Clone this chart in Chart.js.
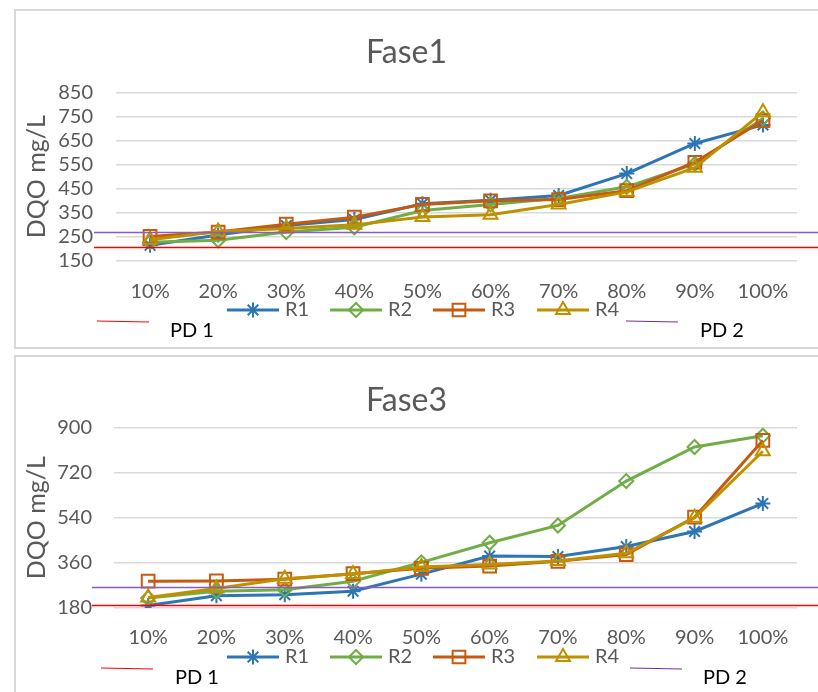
<!DOCTYPE html>
<html>
<head>
<meta charset="utf-8">
<script src="https://cdn.jsdelivr.net/npm/chart.js@4.4.0/dist/chart.umd.min.js"></script>
<style>
  html, body { margin:0; padding:0; background:#fff; overflow:hidden; }
  .box { position:absolute; left:14px; width:808px; border:2px solid #D9D9D9; box-sizing:border-box; background:#fff; }
  #box1 { top:9px; height:340px; }
  #box2 { top:355px; height:345px; }
  canvas { display:block; }
</style>
</head>
<body>
<div class="box" id="box1"><canvas id="fase1" width="804" height="336"></canvas></div>
<div class="box" id="box2"><canvas id="fase3" width="804" height="341"></canvas></div>
<script>
// data
const categories = ['10%', '20%', '30%', '40%', '50%', '60%', '70%', '80%', '90%', '100%'];
const seriesLabels = ['R1', 'R2', 'R3', 'R4'];
const pdLabels = ['PD 1', 'PD 2'];

const fase1R1 = [215, 258, 297, 322, 388, 402, 422, 513, 638, 715];
const fase1R2 = [228, 236, 270, 290, 360, 385, 410, 458, 553, 742];
const fase1R3 = [252, 270, 303, 332, 385, 400, 405, 442, 560, 733];
const fase1R4 = [238, 272, 285, 300, 333, 342, 385, 437, 537, 768];
const fase1Ticks = [150, 250, 350, 450, 550, 650, 750, 850];
const fase1PD = [208, 271];

const fase3R1 = [190, 229, 233, 247, 315, 387, 385, 425, 485, 597];
const fase3R2 = [220, 247, 253, 287, 362, 440, 509, 686, 822, 867];
const fase3R3 = [287, 288, 295, 317, 338, 347, 366, 393, 542, 848];
const fase3R4 = [222, 258, 297, 316, 343, 353, 367, 398, 540, 805];
const fase3Ticks = [180, 360, 540, 720, 900];
const fase3PD = [193, 262];

Chart.defaults.font.family = 'Lato, "Open Sans", sans-serif';
Chart.defaults.color = '#595959';

const seriesColors = ['#2E75B6', '#70AD47', '#C55A11', '#BF9000'];
const seriesMarkers = ['star', 'rectRot', 'rect', 'triangle'];
const markerSizes = [7.5, 7, 9, 8];
const pdColors = ['#FF0000', '#8B5CC0'];

// horizontal PD lines, drawn on top like in excel, a bit wider than the plot
const pdLines = {
  id: 'pdLines',
  afterDatasetsDraw(chart, args, opts) {
    const ctx = chart.ctx;
    const y = chart.scales.y;
    ctx.save();
    opts.values.forEach((v, i) => {
      const py = Math.round(y.getPixelForValue(v)) + 0.5;
      ctx.strokeStyle = pdColors[i];
      ctx.lineWidth = 1.5;
      ctx.beginPath();
      ctx.moveTo(chart.chartArea.left - 22, py);
      ctx.lineTo(chart.width, py);
      ctx.stroke();
    });
    ctx.restore();
  }
};

// legend in excel style: line + marker + label, PD entries a bit lower
const excelLegend = {
  id: 'excelLegend',
  afterDraw(chart, args, opts) {
    const ctx = chart.ctx;
    ctx.save();
    ctx.font = '20px ' + Chart.defaults.font.family;
    ctx.textBaseline = 'middle';
    chart.data.datasets.forEach((ds, i) => {
      const x = opts.seriesX[i], y = opts.rowY;
      ctx.strokeStyle = ds.borderColor;
      ctx.lineWidth = 3;
      ctx.beginPath();
      ctx.moveTo(x, y);
      ctx.lineTo(x + 52, y);
      ctx.stroke();
      ctx.lineWidth = 2;
      ctx.fillStyle = 'rgba(0,0,0,0)';
      Chart.helpers.drawPoint(ctx, {pointStyle: ds.pointStyle, radius: ds.pointRadius, borderWidth: 2, rotation: 0}, x + 26, y);
      ctx.fillStyle = '#595959';
      ctx.fillText(ds.label, x + 58, y);
    });
    pdLabels.forEach((lab, i) => {
      const x = opts.pdX[i], y = opts.rowY + 11;
      ctx.strokeStyle = i === 1 ? '#7030A0' : pdColors[i];
      ctx.lineWidth = 1.2;
      ctx.beginPath();
      ctx.moveTo(x, y);
      ctx.lineTo(x + 52, y + 1);
      ctx.stroke();
      ctx.fillStyle = '#000000';
      ctx.fillText(lab, opts.pdTextX[i], opts.rowY + 21);
    });
    ctx.restore();
  }
};

function buildChart(id, title, values, ticks, pd, lay) {
  const ctx = document.getElementById(id).getContext('2d');
  return new Chart(ctx, {
    type: 'line',
    data: {
      labels: categories,
      datasets: values.map((v, i) => ({
        label: seriesLabels[i],
        data: v,
        borderColor: seriesColors[i],
        backgroundColor: 'rgba(0,0,0,0)',
        borderWidth: 3,
        pointStyle: seriesMarkers[i],
        pointRadius: markerSizes[i],
        pointBorderWidth: 2,
        pointBorderColor: seriesColors[i],
        pointBackgroundColor: 'rgba(0,0,0,0)',
        tension: 0,
        order: values.length - i
      }))
    },
    options: {
      responsive: false,
      animation: false,
      layout: { padding: { left: 0, right: 23, top: 0, bottom: lay.bottom } },
      scales: {
        x: {
          offset: true,
          grid: { display: false },
          border: { display: false },
          ticks: { padding: lay.xPad, font: { size: 20 }, color: '#595959', maxRotation: 0 }
        },
        y: {
          min: ticks[0],
          max: ticks[ticks.length - 1],
          ticks: { stepSize: ticks[1] - ticks[0], autoSkip: false, padding: lay.yPad, font: { size: 20 }, color: '#595959' },
          grid: { color: '#D9D9D9', lineWidth: 1.5, drawTicks: false },
          border: { display: false },
          title: { display: true, text: 'DQO mg/L', font: { size: 25 }, color: '#595959', padding: { top: 6, bottom: 0 } },
          afterFit: s => { s.width = lay.left; }
        }
      },
      plugins: {
        legend: { display: false },
        tooltip: { enabled: false },
        title: {
          display: true, text: title, color: '#595959',
          font: { size: 32, weight: 'normal' },
          padding: { top: lay.titleTop, bottom: lay.titleBottom }
        },
        pdLines: { values: pd },
        excelLegend: { seriesX: [211, 314, 417, 521], rowY: lay.rowY, pdX: lay.pdX, pdTextX: lay.pdTextX }
      }
    },
    plugins: [pdLines, excelLegend]
  });
}

buildChart('fase1', 'Fase1', [fase1R1, fase1R2, fase1R3, fase1R4], fase1Ticks, fase1PD,
  { left: 100, bottom: 32, xPad: 11, yPad: 23, titleTop: 22, titleBottom: 21, rowY: 299, pdX: [81, 610], pdTextX: [154, 684] });
buildChart('fase3', 'Fase3', [fase3R1, fase3R2, fase3R3, fase3R4], fase3Ticks, fase3PD,
  { left: 98, bottom: 38, xPad: 10, yPad: 22, titleTop: 24, titleBottom: 8, rowY: 300, pdX: [85, 614], pdTextX: [159, 687] });
</script>
</body>
</html>
